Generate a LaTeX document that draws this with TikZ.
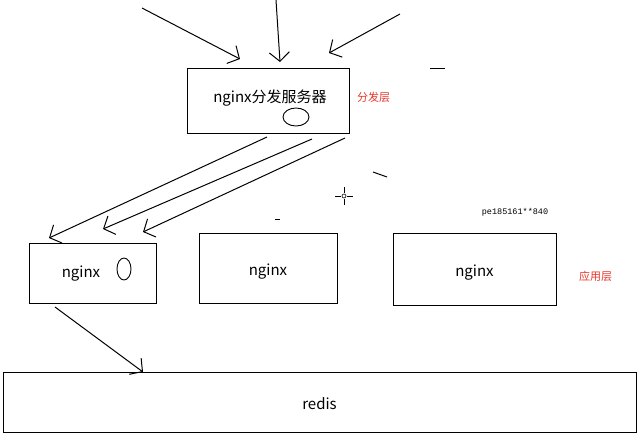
\documentclass[tikz,border=0pt]{standalone}
\usepackage{fontspec}
\setmainfont{Noto Sans CJK SC}
\newfontfamily\wmfont{Liberation Mono}
\usepackage{tikz}
\usetikzlibrary{arrows.meta,positioning,shapes.geometric,calc}
\definecolor{layerred}{RGB}{232,52,40}

\begin{document}
\begin{tikzpicture}[
  x=1pt, y=-1pt,
  box/.style={rectangle, draw, line width=1pt, inner sep=0pt, outer sep=0pt, text height=14pt, text depth=0pt, font=\fontsize{15}{18}\selectfont},
  boxtext/.style={inner sep=0pt, font=\fontsize{15}{18}\selectfont},
  hole/.style={ellipse, draw, line width=0.9pt, inner sep=0pt},
  layer/.style={text=layerred, inner sep=0pt, font=\fontsize{11}{13}\selectfont},
  arrow/.style={-{Straight Barb[length=9pt,width=20pt]}, line width=1pt},
  scribble/.style={line width=1pt}
]
\useasboundingbox (0,0) rectangle (640,440);

% Distribution layer
\node[box, minimum width=162pt, minimum height=65pt] (dist) at (268,100.5) {};
\node[boxtext] (disttext) at (270,98) {nginx分发服务器};
\node[hole, minimum width=26pt, minimum height=18pt] (disthole) at (296,117) {};
\node[layer, right=8pt of dist, yshift=3.5pt] (distlayer) {分发层};

% Application layer
\node[box, minimum width=127pt, minimum height=60pt] (app1) at (92.5,273) {};
\node[boxtext] (app1text) at (81,274) {nginx};
\node[hole, minimum width=14pt, minimum height=22pt] (app1hole) at (124,269) {};
\node[box, minimum width=138pt, minimum height=70pt, right=43pt of app1, yshift=5pt] (app2) {nginx};
\node[box, minimum width=163pt, minimum height=72pt, right=56pt of app2, yshift=-1pt] (app3) {nginx};
\node[layer, right=23pt of app3, yshift=-7pt] (applayer) {应用层};
\node[inner sep=0pt, font=\wmfont\fontsize{8.5}{10}\selectfont] (wm) at (515,212) {pe185161**840};

% Cache
\node[box, minimum width=633pt, minimum height=60pt] (redis) at (319.5,402) {redis};

% Incoming requests
\coordinate (in1) at (142,8);
\coordinate (in2) at (276,0);
\coordinate (in3) at (400,14);
\coordinate (in1tip) at ($(dist.north west)+(53,-9)$);
\coordinate (in2tip) at ($(dist.north west)+(93,-6)$);
\coordinate (in3tip) at ($(dist.north west)+(142,-15)$);

% Distribution to nginx
\coordinate (out1) at ($(dist.south west)+(80,4)$);
\coordinate (out2) at ($(dist.south west)+(125,6)$);
\coordinate (out3) at ($(dist.south west)+(158,5)$);
\coordinate (app1tip1) at ($(app1.north west)+(20,-5)$);
\coordinate (app1tip2) at ($(app1.north west)+(74,-14)$);
\coordinate (app1tip3) at ($(app1.north west)+(114,-11)$);

% nginx to redis
\coordinate (down) at ($(app1.south west)+(26,4)$);
\coordinate (redistip) at ($(redis.north west)+(140,0)$);

% Arrows
\draw[arrow] (in1) -- (in1tip);
\draw[arrow] (in2) -- (in2tip);
\draw[arrow] (in3) -- (in3tip);
\draw[arrow] (out1) -- (app1tip1);
\draw[arrow] (out2) -- (app1tip2);
\draw[arrow] (out3) -- (app1tip3);
\draw[arrow] (down) -- (redistip);

% Stray marks
\draw[scribble] (430,68) -- (445,68);
\draw[scribble] (373,172) -- (387,177);
\draw[scribble] (275,219) -- (280,219);
\draw[line width=0.8pt] (344,187) -- (344,193) (344,199) -- (344,205)
  (335,196) -- (341,196) (347,196) -- (353,196);
\draw[line width=0.6pt] (344,196) circle (2);

\end{tikzpicture}
\end{document}
